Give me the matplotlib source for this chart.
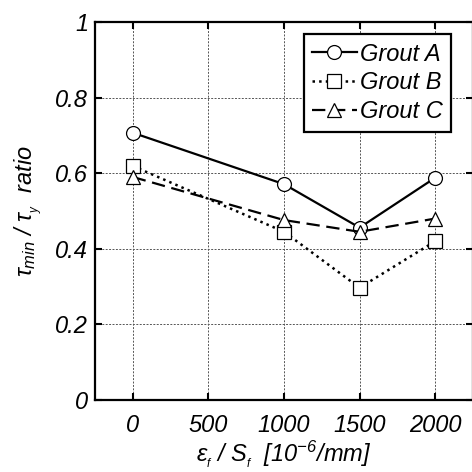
import matplotlib
matplotlib.use('Agg')
import matplotlib.pyplot as plt

plt.rcParams['font.family'] = ['Liberation Sans', 'DejaVu Sans']
plt.rcParams['mathtext.fontset'] = 'custom'
plt.rcParams['mathtext.rm'] = 'Liberation Sans:italic'
plt.rcParams['mathtext.it'] = 'Liberation Sans:italic'

# data
strain = [0, 1000, 1500, 2000]
grout_a = [0.707, 0.571, 0.456, 0.588]
grout_b = [0.619, 0.445, 0.297, 0.420]
grout_c = [0.590, 0.476, 0.445, 0.480]
labels = ['Grout A', 'Grout B', 'Grout C']

fig = plt.figure(figsize=(4.72, 4.72), dpi=100)
# right spine sits just past the image edge, as in the reference
ax = fig.add_axes([95 / 472, 1 - 400 / 472, 378 / 472, 378 / 472])

mk = dict(markersize=10, markerfacecolor='white', markeredgecolor='black', markeredgewidth=0.9, color='black')
ax.plot(strain, grout_a, '-', marker='o', linewidth=1.6, label=labels[0], **mk)
ax.plot(strain, grout_b, ':', marker='s', linewidth=1.8, label=labels[1], **mk)
ax.plot(strain, grout_c, '--', marker='^', linewidth=1.6, dashes=(6, 3), label=labels[2], **mk)

ax.set_xlim(-250, 2250)
ax.set_ylim(0, 1)
ax.set_xticks([0, 500, 1000, 1500, 2000])
ax.set_yticks([0, 0.2, 0.4, 0.6, 0.8, 1])
ax.set_yticklabels(['0', '0.2', '0.4', '0.6', '0.8', '1'])
ax.grid(True, linestyle=(0, (2, 1.5)), color='#555555', linewidth=0.7)
ax.tick_params(direction='in', top=True, right=True, length=5, width=1.5, labelsize=17)
ax.tick_params(axis='x', pad=10)
ax.tick_params(axis='y', pad=5)
for lab in ax.get_xticklabels() + ax.get_yticklabels():
    lab.set_fontstyle('italic')
for s in ax.spines.values():
    s.set_linewidth(1.6)

ax.set_xlabel(r'$\varepsilon_{_f}$ / $S_{_f}$  [10$^{-6}$/mm]', fontsize=17, fontstyle='italic', labelpad=1)
ax.set_ylabel(r'$\tau_{min}$ / $\tau_{_y}$  ratio', fontsize=17, fontstyle='italic', labelpad=7)

leg = ax.legend(loc='upper right', bbox_to_anchor=(0.955, 0.98), fancybox=False,
                framealpha=1, edgecolor='black', fontsize=17, handlelength=1.9,
                handletextpad=0.15, borderpad=0.35, labelspacing=0.25, borderaxespad=0.2)
leg.get_frame().set_linewidth(1.6)
for t in leg.get_texts():
    t.set_fontstyle('italic')

fig.savefig('out.png', dpi=100)
